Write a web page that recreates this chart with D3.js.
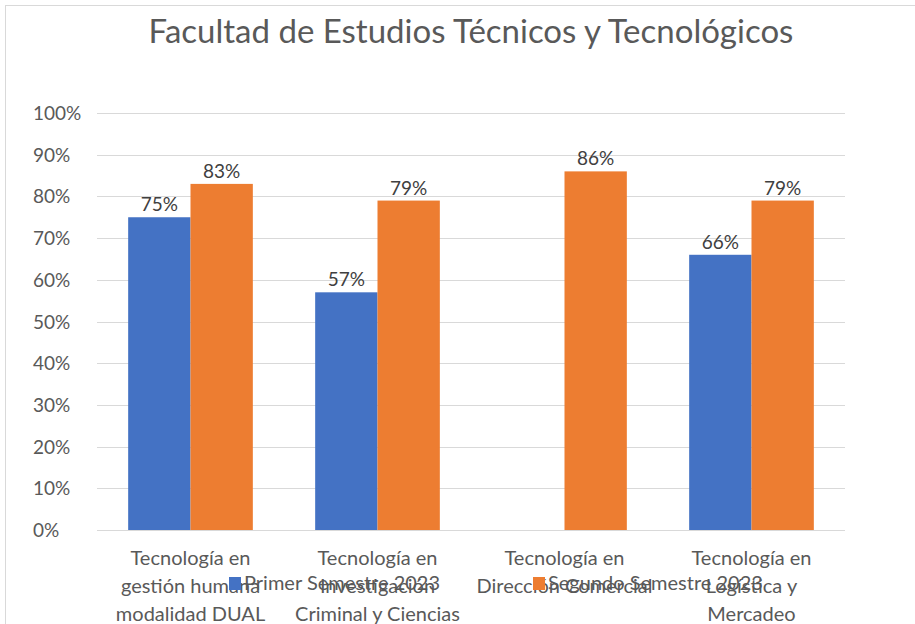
<html>
<head>
  <meta charset="utf-8">
  <script src="https://d3js.org/d3.v7.min.js"></script>
  <style>
    body { margin: 0; background: #fff; }
    text { font-family: Lato, "Noto Sans", sans-serif; }
  </style>
</head>
<body>
<script type="text/javascript">
// chart values
var categories = [
  ["Tecnología en", "gestión humana", "modalidad DUAL"],
  ["Tecnología en", "Investigación", "Criminal y Ciencias", "Forenses"],
  ["Tecnología en", "Dirección Comercial"],
  ["Tecnología en", "Logística y", "Mercadeo"]
];
var seriesNames = ["Primer Semestre 2023", "Segundo Semestre 2023"];
var primer = [0.75, 0.57, null, 0.66];
var segundo = [0.83, 0.79, 0.86, 0.79];
var yTicks = [0, 0.1, 0.2, 0.3, 0.4, 0.5, 0.6, 0.7, 0.8, 0.9, 1];
var colors = ["#4472C4", "#ED7D31"];

var width = 915, height = 624;
var plotLeft = 97, plotRight = 845, plotTop = 113, plotBottom = 530;

var svg = d3.select("body").append("svg")
  .attr("width", width).attr("height", height);

// chart area border
svg.append("rect")
  .attr("x", 5.5).attr("y", 5.5)
  .attr("width", width).attr("height", height)
  .attr("fill", "none").attr("stroke", "#d9d9d9");

svg.append("text")
  .attr("x", (plotLeft + plotRight) / 2).attr("y", 43)
  .attr("text-anchor", "middle")
  .style("font-size", "33px").style("fill", "#595959")
  .text("Facultad de Estudios Técnicos y Tecnológicos");

var x0 = d3.scaleBand().domain(d3.range(categories.length))
  .range([plotLeft, plotRight]).paddingInner(1 / 3).paddingOuter(1 / 6);
var x1 = d3.scaleBand().domain([0, 1]).range([0, x0.bandwidth()]);
var y = d3.scaleLinear().domain([0, 1]).range([plotBottom, plotTop]);

// gridlines
svg.append("g").selectAll("line").data(yTicks).enter().append("line")
  .attr("x1", plotLeft).attr("x2", plotRight)
  .attr("y1", function (d) { return Math.round(y(d)) + 0.5; })
  .attr("y2", function (d) { return Math.round(y(d)) + 0.5; })
  .attr("stroke", "#d9d9d9");

// y tick labels
svg.append("g").selectAll("text").data(yTicks).enter().append("text")
  .attr("x", 33).attr("y", function (d) { return y(d) + 7; })
  .style("font-size", "19px").style("fill", "#595959")
  .text(function (d) { return d3.format(".0%")(d); });

var rows = categories.map(function (c, i) {
  return { i: i, vals: [primer[i], segundo[i]] };
});

var groups = svg.append("g").selectAll("g").data(rows).enter().append("g")
  .attr("transform", function (d) { return "translate(" + x0(d.i) + ",0)"; });

var cells = groups.selectAll("g").data(function (d) {
  return d.vals.map(function (v, s) { return { s: s, v: v }; })
    .filter(function (e) { return e.v !== null; });
}).enter().append("g");

cells.append("rect")
  .attr("x", function (d) { return x1(d.s); })
  .attr("width", x1.bandwidth())
  .attr("y", function (d) { return y(d.v); })
  .attr("height", function (d) { return plotBottom - y(d.v); })
  .attr("fill", function (d) { return colors[d.s]; });

cells.append("text")
  .attr("x", function (d) { return x1(d.s) + x1.bandwidth() / 2; })
  .attr("y", function (d) { return y(d.v) - 6; })
  .attr("text-anchor", "middle")
  .style("font-size", "19px").style("fill", "#404040")
  .text(function (d) { return d3.format(".0%")(d.v); });

// category labels
var catText = svg.append("g").selectAll("text").data(categories).enter().append("text")
  .attr("text-anchor", "middle")
  .style("font-size", "20px").style("fill", "#595959");
catText.selectAll("tspan").data(function (d, i) {
  return d.map(function (l) { return { l: l, i: i }; });
}).enter().append("tspan")
  .attr("x", function (d) { return x0(d.i) + x0.bandwidth() / 2; })
  .attr("y", function (d, j) { return 565 + j * 28; })
  .text(function (d) { return d.l; });

// legend
var legendX = [229, 533];
var leg = svg.append("g").selectAll("g").data(seriesNames).enter().append("g")
  .attr("transform", function (d, i) { return "translate(" + legendX[i] + ",577)"; });
leg.append("rect").attr("width", 12).attr("height", 13)
  .attr("fill", function (d, i) { return colors[i]; });
leg.append("text").attr("x", 15).attr("y", 13)
  .style("font-size", "20px").style("fill", "#595959")
  .text(function (d) { return d; });
</script>
</body>
</html>
